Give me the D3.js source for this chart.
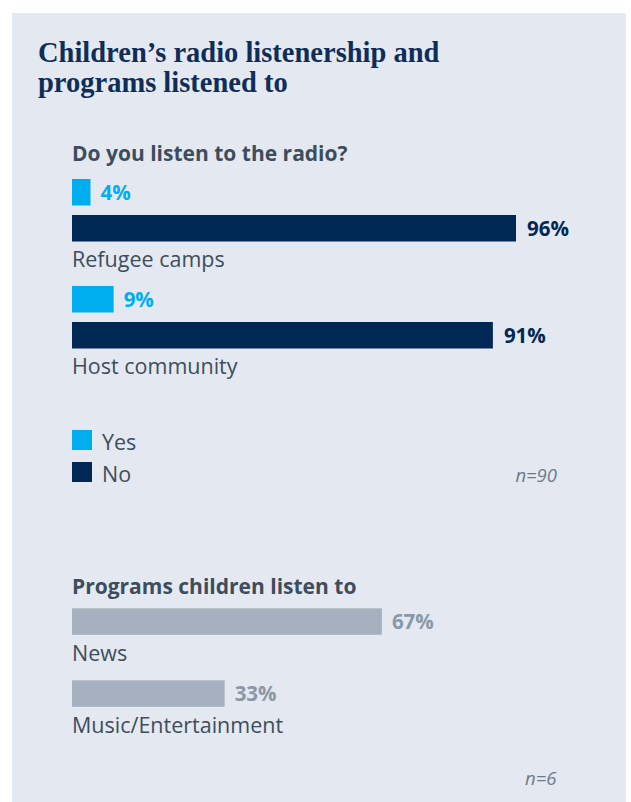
<!DOCTYPE html>
<html>
<head>
<meta charset="utf-8">
<script src="https://cdn.jsdelivr.net/npm/d3@7"></script>
<style>
  html, body { margin: 0; padding: 0; background: #ffffff; }
  svg { display: block; }
</style>
</head>
<body>
<div id="chart"></div>
<script>
// Radio listenership data
const groups = ['Refugee camps', 'Host community'];
const yesValues = [4, 9];
const noValues = [96, 91];
const legendLabels = ['Yes', 'No'];

// Programs data
const programs = ['News', 'Music/Entertainment'];
const programValues = [67, 33];

const titleLines = ['Children\u2019s radio listenership and', 'programs listened to'];
const heading1 = 'Do you listen to the radio?';
const heading2 = 'Programs children listen to';
const note1 = 'n=90';
const note2 = 'n=6';

const W = 631, H = 802;
const sans = '"Open Sans", "Noto Sans", sans-serif';
const colYes = '#00aeef';
const colNo = '#002855';
const colProg = '#a5b1be';
const colProgLabel = '#8a98a6';
const colText = '#3d4d5c';

const svg = d3.select('#chart')
    .append('svg')
    .attr('width', W)
    .attr('height', H);

// Panel background
svg.append('rect')
    .attr('x', 12)
    .attr('y', 13)
    .attr('width', 614)
    .attr('height', H - 13)
    .attr('fill', '#e4e9f1');

// Title
svg.append('text')
    .attr('x', 38)
    .attr('y', 62)
    .style('font-family', '"Liberation Serif", serif')
    .style('font-size', '28.5px')
    .style('font-weight', 'bold')
    .style('fill', '#0e2d59')
    .selectAll('tspan')
    .data(titleLines)
    .enter()
    .append('tspan')
    .attr('x', 38)
    .attr('dy', (d, i) => i === 0 ? 0 : 30)
    .text(d => d);

// Shared x scale (percent -> pixels)
const x = d3.scaleLinear()
    .domain([0, 100])
    .range([72, 534.5]);

const barH = 26.5;

// ---- Section 1: Do you listen to the radio?
svg.append('text')
    .attr('x', 72)
    .attr('y', 160.5)
    .style('font-family', sans)
    .style('font-size', '21px')
    .style('font-weight', 'bold')
    .style('fill', colText)
    .text(heading1);

const gy = d3.scaleBand()
    .domain(groups)
    .range([179, 179 + 107 * groups.length]);

const radioData = groups.map((g, i) => ({ group: g, yes: yesValues[i], no: noValues[i] }));

const grp = svg.selectAll('.grp')
    .data(radioData)
    .enter()
    .append('g')
    .attr('class', 'grp')
    .attr('transform', d => `translate(0,${gy(d.group)})`);

// Yes bars
grp.append('rect')
    .attr('x', x(0))
    .attr('y', 0)
    .attr('width', d => x(d.yes) - x(0))
    .attr('height', barH)
    .attr('fill', colYes);

grp.append('text')
    .attr('x', d => x(d.yes) + 10)
    .attr('y', barH / 2)
    .attr('dy', '0.36em')
    .style('font-family', sans)
    .style('font-size', '20.5px')
    .style('font-weight', 'bold')
    .style('fill', colYes)
    .text(d => d.yes + '%');

// No bars
grp.append('rect')
    .attr('x', x(0))
    .attr('y', 36)
    .attr('width', d => x(d.no) - x(0))
    .attr('height', barH)
    .attr('fill', colNo);

grp.append('text')
    .attr('x', d => x(d.no) + 11)
    .attr('y', 36 + barH / 2)
    .attr('dy', '0.36em')
    .style('font-family', sans)
    .style('font-size', '20.5px')
    .style('font-weight', 'bold')
    .style('fill', colNo)
    .text(d => d.no + '%');

// Group labels
grp.append('text')
    .attr('x', 72)
    .attr('y', 87.5)
    .style('font-family', sans)
    .style('font-size', '21.5px')
    .style('fill', colText)
    .text(d => d.group);

// Legend
const legend = svg.selectAll('.legend')
    .data(legendLabels)
    .enter()
    .append('g')
    .attr('class', 'legend')
    .attr('transform', (d, i) => `translate(72,${430 + i * 32})`);

legend.append('rect')
    .attr('width', 20)
    .attr('height', 20)
    .attr('fill', (d, i) => i === 0 ? colYes : colNo);

legend.append('text')
    .attr('x', 30)
    .attr('y', 19.5)
    .style('font-family', sans)
    .style('font-size', '21.5px')
    .style('fill', colText)
    .text(d => d);

svg.append('text')
    .attr('x', 557)
    .attr('y', 482)
    .attr('text-anchor', 'end')
    .style('font-family', sans)
    .style('font-size', '18.5px')
    .style('font-style', 'italic')
    .style('fill', '#6c7b89')
    .text(note1);

// ---- Section 2: Programs children listen to
svg.append('text')
    .attr('x', 72)
    .attr('y', 593.5)
    .style('font-family', sans)
    .style('font-size', '21px')
    .style('font-weight', 'bold')
    .style('fill', colText)
    .text(heading2);

const py = d3.scaleBand()
    .domain(programs)
    .range([608.3, 608.3 + 72 * programs.length]);

const progData = programs.map((p, i) => ({ name: p, value: programValues[i] }));

const pg = svg.selectAll('.prog')
    .data(progData)
    .enter()
    .append('g')
    .attr('class', 'prog')
    .attr('transform', d => `translate(0,${py(d.name)})`);

pg.append('rect')
    .attr('x', x(0))
    .attr('width', d => x(d.value) - x(0))
    .attr('height', barH)
    .attr('fill', colProg);

pg.append('text')
    .attr('x', d => x(d.value) + 10)
    .attr('y', barH / 2)
    .attr('dy', '0.36em')
    .style('font-family', sans)
    .style('font-size', '20.5px')
    .style('font-weight', 'bold')
    .style('fill', colProgLabel)
    .text(d => d.value + '%');

pg.append('text')
    .attr('x', 72)
    .attr('y', 52.5)
    .style('font-family', sans)
    .style('font-size', '21.5px')
    .style('fill', colText)
    .text(d => d.name);

svg.append('text')
    .attr('x', 556.5)
    .attr('y', 785)
    .attr('text-anchor', 'end')
    .style('font-family', sans)
    .style('font-size', '18.5px')
    .style('font-style', 'italic')
    .style('fill', '#6c7b89')
    .text(note2);
</script>
</body>
</html>
